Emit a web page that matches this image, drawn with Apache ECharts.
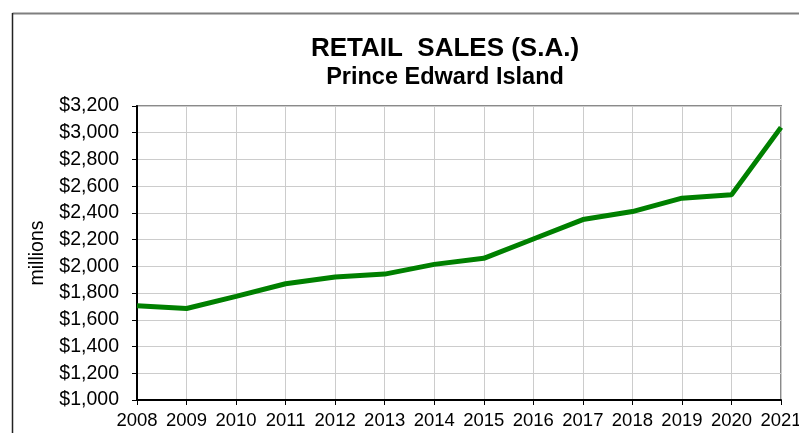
<!DOCTYPE html>
<html>
<head>
<meta charset="utf-8">
<script src="https://cdn.jsdelivr.net/npm/echarts@6/dist/echarts.min.js"></script>
<style>
  html, body { margin: 0; padding: 0; background: #fff; }
  #chart { width: 799px; height: 433px; }
</style>
</head>
<body>
<div id="chart"></div>
<script>
// data
var years = ['2008','2009','2010','2011','2012','2013','2014','2015','2016','2017','2018','2019','2020','2021'];
var sales = [1705, 1685, 1775, 1870, 1920, 1942, 2015, 2060, 2205, 2350, 2410, 2510, 2535, 3040];
var yTicks = [1000, 3200, 200]; // min, max, step

var FONT = '"Liberation Sans", Arial, sans-serif';

function money(v) {
  return '$' + v.toLocaleString('en-US');
}

var chart = echarts.init(document.getElementById('chart'));
var option = {
  animation: false,
  backgroundColor: '#fff',
  title: [{
    text: 'RETAIL  SALES (S.A.)',
    left: 440,
    top: 31,
    textAlign: 'center',
    textStyle: { fontFamily: FONT, fontSize: 26, fontWeight: 'bold', color: '#000' }
  }, {
    text: 'Prince Edward Island',
    left: 440,
    top: 61,
    textAlign: 'center',
    textStyle: { fontFamily: FONT, fontSize: 23.5, fontWeight: 'bold', color: '#000' }
  }],
  graphic: [{
    type: 'line',
    shape: { x1: 12.5, y1: 13.5, x2: 820, y2: 13.5 },
    style: { stroke: '#7f7f7f', lineWidth: 2 }
  }, {
    type: 'line',
    shape: { x1: 12.5, y1: 13, x2: 12.5, y2: 450 },
    style: { stroke: '#222', lineWidth: 1.5 }
  }],
  grid: {
    left: 137, right: 18, top: 106, bottom: 33,
    outerBoundsMode: 'none',
    show: true,
    borderColor: '#8a8a8a',
    borderWidth: 2
  },
  xAxis: {
    type: 'category',
    data: years,
    boundaryGap: false,
    axisLine: { lineStyle: { color: '#000', width: 2 } },
    axisTick: { show: true, length: 5, alignWithLabel: true, lineStyle: { color: '#000' } },
    axisLabel: { fontFamily: FONT, fontSize: 18.5, color: '#000', margin: 11, interval: 0 },
    splitLine: { show: true, lineStyle: { color: '#cccccc', width: 1 } }
  },
  yAxis: {
    type: 'value',
    min: yTicks[0],
    max: yTicks[1],
    interval: yTicks[2],
    name: 'millions',
    nameLocation: 'middle',
    nameGap: 89,
    nameRotate: 90,
    nameTextStyle: { fontFamily: FONT, fontSize: 19.5, color: '#000' },
    axisLine: { show: true, lineStyle: { color: '#000', width: 2 } },
    axisTick: { show: true, length: 5, lineStyle: { color: '#000' } },
    axisLabel: { fontFamily: FONT, fontSize: 19.5, color: '#000', margin: 18, formatter: money },
    splitLine: { show: true, lineStyle: { color: '#cccccc', width: 1 } }
  },
  series: [{
    name: 'Retail sales',
    type: 'line',
    data: sales,
    showSymbol: false,
    lineStyle: { color: '#008000', width: 5 },
    itemStyle: { color: '#008000' }
  }]
};
chart.setOption(option);
</script>
</body>
</html>
